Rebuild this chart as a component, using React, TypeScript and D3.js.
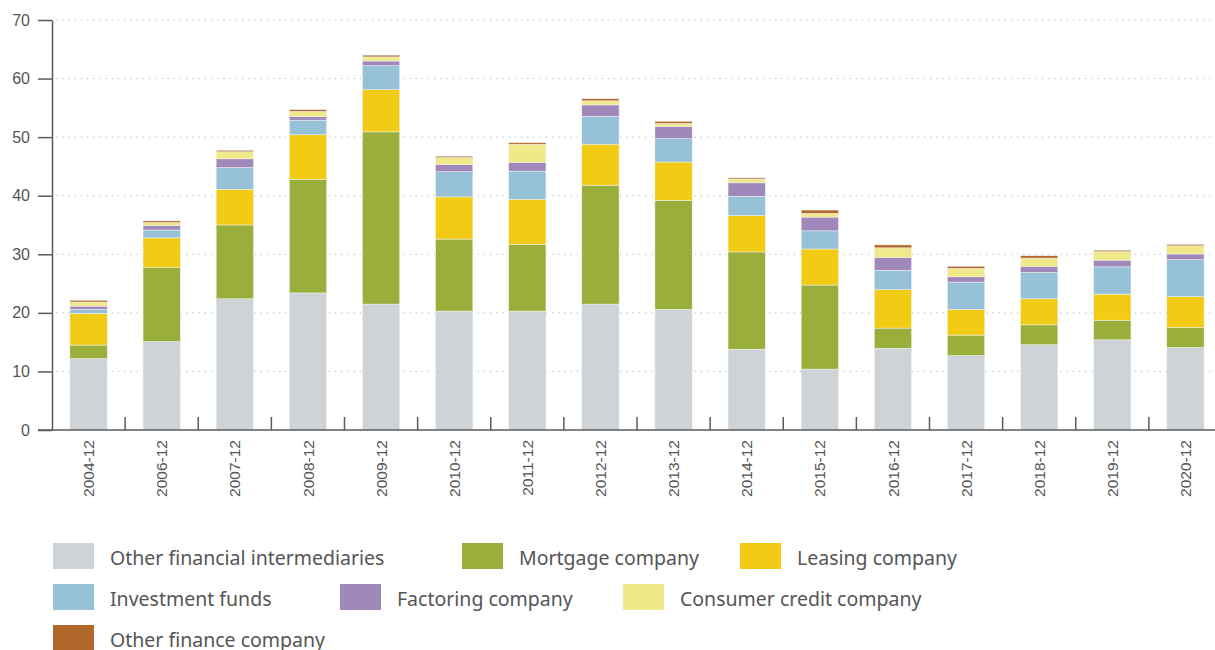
import React, { useRef, useEffect } from 'react';
import * as d3 from 'd3';

const categories = [
  '2004-12', '2006-12', '2007-12', '2008-12', '2009-12', '2010-12', '2011-12', '2012-12',
  '2013-12', '2014-12', '2015-12', '2016-12', '2017-12', '2018-12', '2019-12', '2020-12',
];

const otherIntermediaries = [12.2, 15.1, 22.4, 23.4, 21.5, 20.3, 20.3, 21.5, 20.6, 13.8, 10.4, 13.95, 12.7, 14.55, 15.4, 14.1];
const mortgage = [2.3, 12.6, 12.6, 19.4, 29.4, 12.3, 11.4, 20.3, 18.6, 16.6, 14.35, 3.45, 3.5, 3.4, 3.35, 3.4];
const leasing = [5.4, 5.1, 6.1, 7.6, 7.2, 7.2, 7.7, 7.0, 6.55, 6.2, 6.15, 6.55, 4.4, 4.45, 4.45, 5.25];
const investmentFunds = [0.7, 1.35, 3.7, 2.5, 4.1, 4.3, 4.8, 4.75, 4.0, 3.3, 3.1, 3.3, 4.65, 4.5, 4.65, 6.35];
const factoring = [0.55, 0.75, 1.5, 0.6, 0.8, 1.2, 1.5, 1.95, 2.1, 2.3, 2.35, 2.2, 0.9, 1.05, 1.15, 0.95];
const consumerCredit = [0.7, 0.5, 1.2, 0.9, 0.7, 1.2, 3.1, 0.7, 0.5, 0.65, 0.65, 1.65, 1.45, 1.4, 1.45, 1.4];
const otherFinance = [0.3, 0.3, 0.25, 0.3, 0.3, 0.25, 0.25, 0.35, 0.35, 0.2, 0.55, 0.5, 0.35, 0.4, 0.25, 0.25];

const seriesNames = [
  'Other financial intermediaries', 'Mortgage company', 'Leasing company',
  'Investment funds', 'Factoring company', 'Consumer credit company', 'Other finance company',
];
const seriesValues = [otherIntermediaries, mortgage, leasing, investmentFunds, factoring, consumerCredit, otherFinance];
const colors = ['#cdd3d7', '#9aae3b', '#f2cb14', '#96c1d6', '#a088bb', '#efe98a', '#b0692a'];

const yTicks = [0, 10, 20, 30, 40, 50, 60, 70];

// legend rows: [series index, swatch x]
const legendLayout = [
  [0, 53, 0], [1, 462, 0], [2, 740, 0],
  [3, 53, 1], [4, 340, 1], [5, 623, 1],
  [6, 53, 2],
];

function App() {
  const svgRef = useRef<SVGSVGElement>(null);
  const width = 1215;
  const height = 650;
  const margin = { top: 20, left: 52, bottom: 220 };
  const plotRight = 1222;
  const plotBottom = height - margin.bottom;

  useEffect(() => {
    const svg = d3.select(svgRef.current);
    svg.selectAll('*').remove();

    const table = categories.map((c, i) => {
      const row: any = { cat: c };
      seriesNames.forEach((n, j) => { row[n] = seriesValues[j][i]; });
      return row;
    });
    const stacked = d3.stack().keys(seriesNames)(table);

    const x = d3.scaleBand().domain(categories).range([margin.left, plotRight]).paddingInner(0.49).paddingOuter(0.245);
    const xEdges = d3.scaleBand().domain(categories).range([margin.left, plotRight]);
    const y = d3.scaleLinear().domain([0, 70]).range([plotBottom, margin.top]);

    const axisColor = '#5a5a5a';
    const textColor = '#555';

    // gridlines
    svg.append('g').selectAll('line').data(yTicks.filter(t => t > 0)).enter().append('line')
      .attr('x1', margin.left + 4).attr('x2', width)
      .attr('y1', d => y(d)).attr('y2', d => y(d))
      .attr('stroke', '#b5b5b5').attr('stroke-width', 1)
      .attr('stroke-dasharray', '1.2,5');

    // bars
    svg.append('g').selectAll('g').data(stacked).enter().append('g')
      .attr('fill', (d, i) => colors[i])
      .selectAll('rect').data(d => d).enter().append('rect')
      .attr('x', d => x(d.data.cat as string)!)
      .attr('width', x.bandwidth())
      .attr('y', d => y(d[1]))
      .attr('height', d => y(d[0]) - y(d[1]))
      .attr('stroke', '#f4f4f4').attr('stroke-width', 0.5);

    // y axis
    const yAxis = svg.append('g').attr('transform', `translate(${margin.left},0)`)
      .call(d3.axisLeft(y).tickValues(yTicks).tickSize(14).tickPadding(8).tickSizeOuter(0));
    yAxis.select('.domain').attr('stroke', axisColor).attr('stroke-width', 1.5);
    yAxis.selectAll('.tick line').attr('stroke', axisColor).attr('stroke-width', 1.5);
    yAxis.selectAll('.tick text').attr('fill', textColor)
      .style('font-family', 'Liberation Sans, Arial, sans-serif').style('font-size', '16px');

    // x axis baseline
    svg.append('line').attr('x1', 38).attr('x2', width)
      .attr('y1', plotBottom).attr('y2', plotBottom)
      .attr('stroke', axisColor).attr('stroke-width', 1.5);

    // separators between categories
    svg.append('g').selectAll('line').data(categories.slice(1)).enter().append('line')
      .attr('x1', d => xEdges(d)!).attr('x2', d => xEdges(d)!)
      .attr('y1', plotBottom).attr('y2', plotBottom - 13)
      .attr('stroke', axisColor).attr('stroke-width', 1.5);

    // x labels
    svg.append('g').selectAll('text').data(categories).enter().append('text')
      .attr('transform', d => `translate(${x(d)! + x.bandwidth() / 2},${plotBottom + 10}) rotate(-90)`)
      .attr('dy', '0.36em')
      .attr('text-anchor', 'end')
      .attr('fill', textColor)
      .style('font-family', 'Liberation Sans, Arial, sans-serif').style('font-size', '15.5px')
      .text(d => d);

    // legend
    const legend = svg.append('g');
    legendLayout.forEach(([si, lx, row]) => {
      const top = 543 + row * 41;
      legend.append('rect').attr('x', lx).attr('y', top).attr('width', 41).attr('height', 26)
        .attr('fill', colors[si]);
      legend.append('text').attr('x', lx + 57).attr('y', top + 22)
        .attr('fill', textColor)
        .style('font-family', 'Noto Sans, Open Sans, sans-serif').style('font-size', '19.5px')
        .text(seriesNames[si]);
    });
  });

  return (
    <div style={{ position: 'absolute', left: 0, top: 0 }}>
      <svg ref={svgRef} width={width} height={height} style={{ display: 'block' }} />
    </div>
  );
}

export default App;
